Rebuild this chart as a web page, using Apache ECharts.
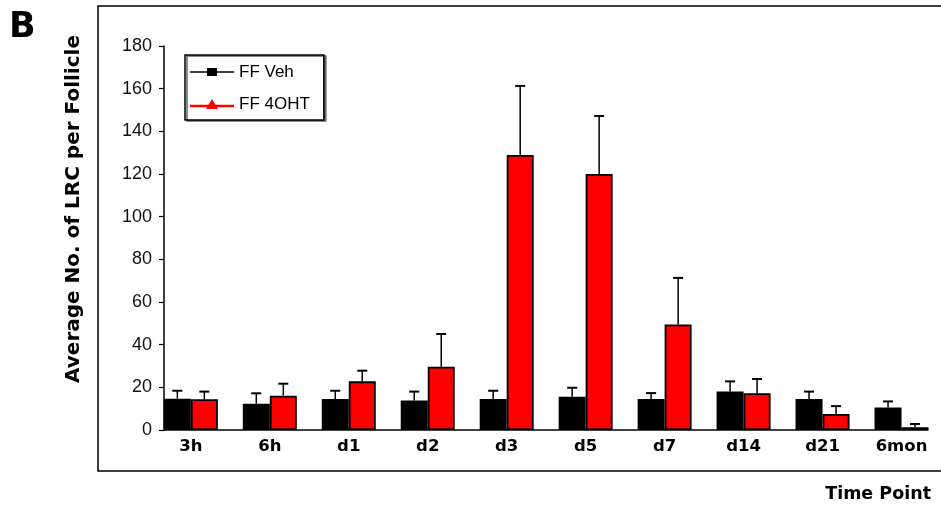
<!DOCTYPE html>
<html>
<head>
<meta charset="utf-8">
<script src="https://cdn.jsdelivr.net/npm/echarts@6/dist/echarts.min.js"></script>
<style>
html, body { margin: 0; padding: 0; background: #fff; }
#chart { width: 941px; height: 509px; }
</style>
</head>
<body>
<div id="chart"></div>
<script>
// data
var categories = ['3h', '6h', 'd1', 'd2', 'd3', 'd5', 'd7', 'd14', 'd21', '6mon'];
var vehMean = [14.7, 12.3, 14.5, 13.8, 14.5, 15.6, 14.5, 18.1, 14.5, 10.6];
var vehErr = [3.7, 4.9, 3.9, 4.2, 3.9, 4.2, 2.8, 4.7, 3.5, 2.8];
var ohtMean = [14.4, 16.1, 22.8, 29.7, 128.9, 120, 49.5, 17.2, 7.5, 1.3];
var ohtErr = [3.6, 5.6, 5.0, 15.3, 32.4, 27.2, 21.8, 6.7, 3.7, 1.5];
var yTicks = [0, 20, 40, 60, 80, 100, 120, 140, 160, 180];

var font = '"Liberation Sans", Arial, sans-serif';
var boldFont = '"DejaVu Sans", "Liberation Sans", sans-serif';
var barW = 27;
var axisX = 164;
var band = 79.3;
var gridLeft = axisX - (band - 2 * barW) / 2;

function errData(mean, err) {
	return mean.map(function (m, i) { return [i, m, err[i]]; });
}

function errBar(shift) {
	return function (params, api) {
		var base = api.coord([api.value(0), api.value(1)]);
		var top = api.coord([api.value(0), api.value(1) + api.value(2)]);
		var x = base[0] + shift;
		return {
			type: 'group',
			children: [
				{ type: 'line', shape: { x1: x, y1: base[1], x2: x, y2: top[1] }, style: { stroke: '#000', lineWidth: 1.5 } },
				{ type: 'line', shape: { x1: x - 5, y1: top[1], x2: x + 5, y2: top[1] }, style: { stroke: '#000', lineWidth: 2 } }
			]
		};
	};
}

var chart = echarts.init(document.getElementById('chart'));
var option = {
	animation: false,
	backgroundColor: '#fff',
	textStyle: { fontFamily: font },
	title: {
		text: 'B',
		left: 9,
		top: 10,
		padding: 0,
		textStyle: { fontFamily: boldFont, fontSize: 35, fontWeight: 'bold', color: '#000' }
	},
	legend: {
		orient: 'vertical',
		left: 185,
		top: 55,
		padding: [7, 14, 6, 5],
		itemGap: 12,
		itemWidth: 44,
		itemHeight: 10,
		borderColor: '#000',
		borderWidth: 1.5,
		shadowColor: '#666',
		shadowOffsetX: 2,
		shadowOffsetY: 1,
		backgroundColor: '#fff',
		textStyle: { fontFamily: font, fontSize: 17, color: '#000', lineHeight: 20 },
		data: [
			{ name: 'FF Veh', icon: 'path://M0,4.3 L44,4.3 L44,5.7 L0,5.7 Z M17,1 L27,1 L27,9 L17,9 Z', itemStyle: { color: '#000', borderWidth: 0 } },
			{ name: 'FF 4OHT', icon: 'path://M0,5.8 L44,5.8 L44,8.2 L0,8.2 Z M22,0 L28,10 L16,10 Z', itemStyle: { color: '#ff0000', borderWidth: 0 } }
		]
	},
	grid: {
		left: gridLeft,
		width: band * categories.length,
		top: 46,
		bottom: 79
	},
	xAxis: {
		type: 'category',
		data: categories,
		axisLine: { show: false },
		axisTick: { show: false },
		axisLabel: { margin: 8, fontFamily: boldFont, fontSize: 16.5, fontWeight: 'bold', color: '#000' }
	},
	yAxis: {
		type: 'value',
		min: yTicks[0],
		max: yTicks[yTicks.length - 1],
		interval: 20,
		offset: gridLeft - axisX,
		axisLine: { show: true, lineStyle: { color: '#000', width: 1.5 } },
		axisTick: { show: true, length: 5, lineStyle: { color: '#000', width: 1.2 } },
		axisLabel: { margin: 12, fontFamily: font, fontSize: 18, color: '#111' },
		splitLine: { show: false }
	},
	series: [
		{
			name: 'FF Veh',
			type: 'bar',
			barWidth: barW,
			barGap: '0%',
			data: vehMean,
			itemStyle: { color: '#000', borderColor: '#000', borderWidth: 1.8 }
		},
		{
			name: 'FF 4OHT',
			type: 'bar',
			barWidth: barW,
			barGap: '0%',
			data: ohtMean,
			itemStyle: { color: '#ff0000', borderColor: '#000', borderWidth: 1.8 }
		},
		{
			type: 'custom',
			renderItem: errBar(-barW / 2),
			data: errData(vehMean, vehErr),
			z: 5
		},
		{
			type: 'custom',
			renderItem: errBar(barW / 2),
			data: errData(ohtMean, ohtErr),
			z: 5
		}
	],
	graphic: [
		// outer frame (open on the right, as in the figure)
		{ type: 'rect', z: -1, shape: { x: 98, y: 6, width: 900, height: 465 }, style: { fill: 'none', stroke: '#000', lineWidth: 1.5 } },
		{ type: 'text', x: 74, y: 209, rotation: Math.PI / 2, style: { text: 'Average No. of LRC per Follicle', font: 'bold 20px ' + boldFont, fill: '#000', textAlign: 'center', textVerticalAlign: 'middle' } },
		{ type: 'text', x: 931, y: 494, style: { text: 'Time Point', font: 'bold 17.5px ' + boldFont, fill: '#000', textAlign: 'right', textVerticalAlign: 'middle' } }
	]
};
chart.setOption(option);

// category axis baseline only spans the bars, from the value axis to the last bar
var y0 = chart.convertToPixel({ gridIndex: 0 }, [0, 0])[1];
var lastX = chart.convertToPixel({ gridIndex: 0 }, [categories.length - 1, 0])[0] + barW;
chart.setOption({
	graphic: option.graphic.concat([
		{ type: 'line', shape: { x1: axisX, y1: y0, x2: lastX, y2: y0 }, style: { stroke: '#000', lineWidth: 1.5 }, z: 10 }
	])
});
</script>
</body>
</html>
